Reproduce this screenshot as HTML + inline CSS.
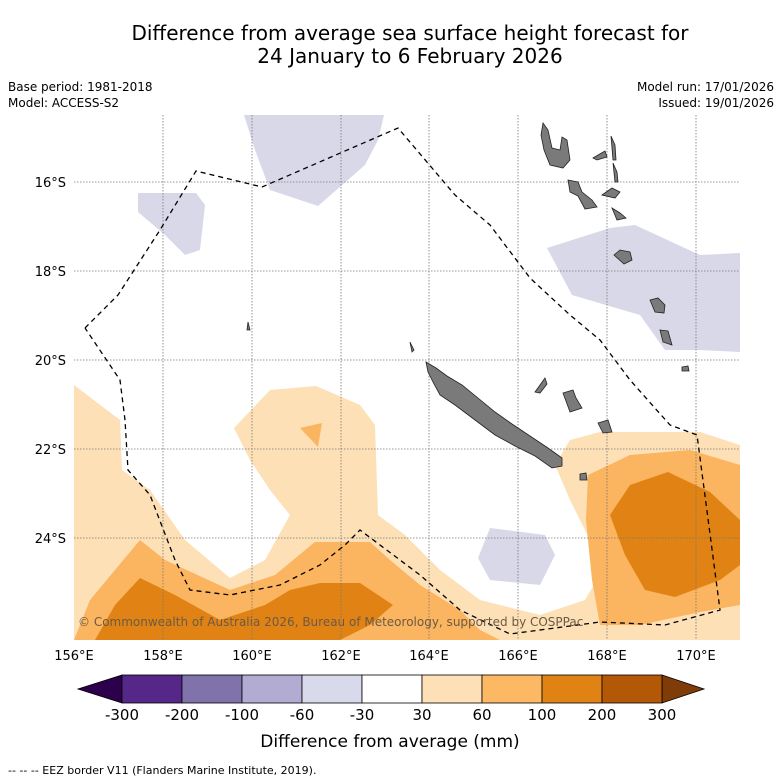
<!DOCTYPE html>
<html><head><meta charset="utf-8"><style>
body{margin:0;background:#fff;width:781px;height:781px;overflow:hidden;font-family:"Liberation Sans","DejaVu Sans",sans-serif}
svg{display:block}
</style></head><body>
<svg width="781" height="781" viewBox="0 0 781 781" font-family="DejaVu Sans, Liberation Sans, sans-serif">
<text x="410" y="40" font-size="20" text-anchor="middle">Difference from average sea surface height forecast for</text>
<text x="410" y="63" font-size="20" text-anchor="middle">24 January to 6 February 2026</text>
<text x="8" y="91" font-size="12">Base period: 1981-2018</text>
<text x="8" y="107" font-size="12">Model: ACCESS-S2</text>
<text x="774" y="91" font-size="12" text-anchor="end">Model run: 17/01/2026</text>
<text x="774" y="107" font-size="12" text-anchor="end">Issued: 19/01/2026</text>
<defs><clipPath id="mc"><rect x="74" y="115" width="666" height="525"/></clipPath></defs>
<g clip-path="url(#mc)">
<rect x="74" y="115" width="666" height="525" fill="#fff"/>
<g fill="#d8d8e9">
<polygon points="244,115 384,115 378,140 365,165 318,206 270,190 255,150"/>
<polygon points="138,193 196,193 205,205 200,250 185,255 165,235 138,212"/>
<polygon points="547,248 610,228 635,225 700,255 740,253 740,352 700,350 665,350 640,315 572,295"/>
<polygon points="490,528 545,535 555,555 540,585 490,580 478,558"/>
</g>
<g fill="#fde0b6">
<polygon points="74,385 120,420 122,470 150,490 185,540 230,578 265,560 290,515 270,490 250,460 234,428 270,390 316,386 360,405 375,425 378,515 405,535 440,570 480,600 540,615 585,600 600,575 590,540 570,500 555,465 570,440 600,432 700,432 740,445 740,640 74,640"/>
</g>
<g fill="#fbb45f">
<polygon points="74,640 90,600 140,540 165,560 230,590 275,575 315,542 370,542 390,560 420,585 460,610 480,630 500,640"/>
<polygon points="300,428 322,423 318,447"/>
<polygon points="588,475 630,455 690,450 740,465 740,605 700,612 640,625 600,625 592,580 586,520"/>
</g>
<g fill="#e08314">
<polygon points="95,640 115,605 140,578 175,595 220,620 265,605 290,590 320,583 360,583 393,605 370,625 340,640"/>
<polygon points="610,515 630,485 668,472 710,492 740,520 740,565 720,580 675,597 645,590 625,555"/>
</g>
<g stroke="#777" stroke-width="0.8" stroke-dasharray="1.5,1.5">
<line x1="163" y1="115" x2="163" y2="640"/><line x1="252" y1="115" x2="252" y2="640"/><line x1="341" y1="115" x2="341" y2="640"/><line x1="429" y1="115" x2="429" y2="640"/><line x1="518" y1="115" x2="518" y2="640"/><line x1="607" y1="115" x2="607" y2="640"/><line x1="696" y1="115" x2="696" y2="640"/>
<line x1="74" y1="182" x2="740" y2="182"/><line x1="74" y1="271" x2="740" y2="271"/><line x1="74" y1="360" x2="740" y2="360"/><line x1="74" y1="449" x2="740" y2="449"/><line x1="74" y1="538" x2="740" y2="538"/>
</g>
<g fill="#7a7a7a" stroke="#222" stroke-width="0.8">
<path d="M426,362 L436,368 L447,376 L462,385 L478,398 L495,412 L512,424 L530,436 L548,448 L562,458 L562,466 L552,468 L535,456 L515,446 L495,435 L475,420 L455,405 L440,395 L433,382 L428,372 Z"/>
<path d="M543,123 L548,130 L552,148 L560,150 L562,137 L567,140 L570,160 L563,168 L550,165 L544,150 L541,135 Z"/>
<path d="M568,180 L578,182 L582,192 L592,200 L597,207 L585,209 L578,196 L570,192 Z"/>
<path d="M593,158 L605,151 L607,157 L597,160 Z"/>
<path d="M611,136 L615,145 L616,160 L613,160 Z"/>
<path d="M613,163 L617,172 L618,182 L615,182 Z"/>
<path d="M602,195 L612,188 L620,192 L615,198 Z"/>
<path d="M612,208 L620,213 L626,218 L617,220 Z"/>
<path d="M614,255 L620,250 L630,252 L632,260 L624,264 Z"/>
<path d="M650,300 L658,298 L665,305 L664,313 L655,312 Z"/>
<path d="M660,330 L668,331 L672,345 L663,342 Z"/>
<path d="M682,367 L688,366 L689,371 L682,371 Z"/>
<path d="M535,392 L545,378 L547,384 L540,393 Z"/>
<path d="M563,393 L573,390 L576,398 L582,408 L570,412 Z"/>
<path d="M598,423 L608,420 L612,432 L603,433 Z"/>
<path d="M580,474 L586,473 L587,480 L580,480 Z"/>
<path d="M248,322 L250,330 L247,330 Z"/>
<path d="M410,342 L414,350 L412,352 Z"/>
</g>
<polyline fill="none" stroke="#000" stroke-width="1.3" stroke-dasharray="5,4" points="85,328 118,295 160,230 196,171 262,187 398,128 455,195 490,225 530,278 570,315 600,340 630,380 670,425 697,435 720,610 665,625 600,622 510,634 460,610 420,575 400,560 360,530 345,545 320,565 280,585 230,595 190,590 175,560 150,495 128,470 125,420 120,380 85,328"/>
<text x="78" y="626" font-size="12" fill="#6b5a45">© Commonwealth of Australia 2026, Bureau of Meteorology, supported by COSPPac</text>
</g>
<g font-size="13" text-anchor="middle">
<text x="74" y="660">156°E</text><text x="163" y="660">158°E</text><text x="252" y="660">160°E</text><text x="341" y="660">162°E</text><text x="429" y="660">164°E</text><text x="518" y="660">166°E</text><text x="607" y="660">168°E</text><text x="696" y="660">170°E</text>
</g>
<g font-size="13" text-anchor="end">
<text x="66" y="187">16°S</text><text x="66" y="276">18°S</text><text x="66" y="365">20°S</text><text x="66" y="454">22°S</text><text x="66" y="543">24°S</text>
</g>
<g id="cbar"></g>
<text x="390" y="747" font-size="17" text-anchor="middle">Difference from average (mm)</text>
<text x="8" y="774" font-size="11">--  --  -- EEZ border V11 (Flanders Marine Institute, 2019).</text>
</svg>
<script>
const levels=["-300","-200","-100","-60","-30","30","60","100","200","300"];
const colors=["#542788","#8073ac","#b2abd2","#d8daeb","#ffffff","#fee0b6","#fdb863","#e08214","#b35806"];
const lowColor="#2d004b", highColor="#7f3b08";
const g=document.getElementById('cbar');const ns="http://www.w3.org/2000/svg";
const x0=122,w=60,y0=675,h=28;
function mk(t,a){const e=document.createElementNS(ns,t);for(const k in a)e.setAttribute(k,a[k]);g.appendChild(e);return e;}
const tl=mk('polygon',{points:`${x0},${y0} ${x0-44},${y0+h/2} ${x0},${y0+h}`,fill:lowColor,stroke:'#000','stroke-width':0.8});


const xe=x0+colors.length*w;
const tr=mk('polygon',{points:`${xe},${y0} ${xe+42},${y0+h/2} ${xe},${y0+h}`,fill:highColor,stroke:'#000','stroke-width':0.8});


colors.forEach((c,i)=>{const r=mk('rect',{x:x0+i*w,y:y0,width:w,height:h,fill:c,stroke:'#000','stroke-width':0.8});

});
levels.forEach((l,i)=>{const t=mk('text',{x:x0+i*w,y:720,'font-size':15,'text-anchor':'middle'});t.textContent=l;

});
</script>
</body></html>
